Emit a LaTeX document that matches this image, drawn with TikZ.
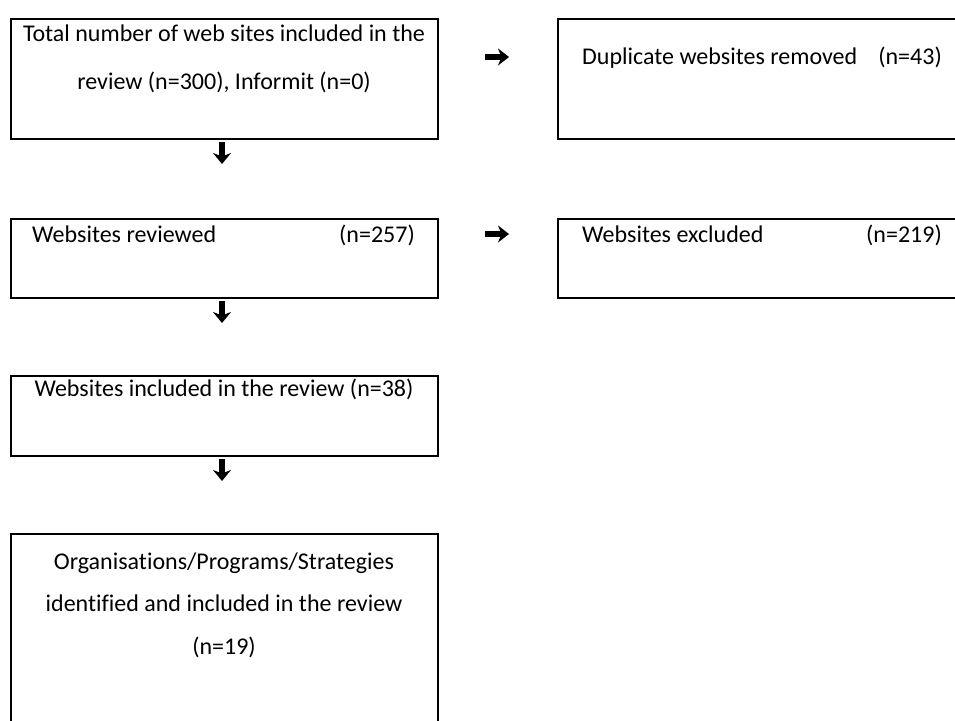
\documentclass[tikz,border=0pt]{standalone}
\usepackage{fontspec}
\setmainfont{Carlito}[Ligatures=NoCommon]
\usetikzlibrary{arrows.meta}
\begin{document}
\begin{tikzpicture}[x=1pt,y=-1pt,
  box/.style={draw=black,line width=2.2pt,anchor=north west,inner sep=0pt},
  txt/.style={inner sep=0pt,font=\fontsize{24}{28}\selectfont},
  darr/.style={line width=5.5pt,-{Stealth[width=18pt,length=11pt,inset=3.5pt]}},
  rarr/.style={line width=5.5pt,-{Stealth[width=17pt,length=11pt,inset=3.5pt]}}]
\useasboundingbox (0,0) rectangle (955,720);
\clip (0,0) rectangle (955,720);
% boxes
\node[box,minimum width=427pt,minimum height=120pt] (b1) at (10,18) {};
\node[box,minimum width=420pt,minimum height=120pt] (b2) at (557,18) {};
\node[box,minimum width=427pt,minimum height=79pt] (b3) at (10,218) {};
\node[box,minimum width=420pt,minimum height=79pt] (b4) at (557,218) {};
\node[box,minimum width=427pt,minimum height=80pt] (b5) at (10,375) {};
\node[box,minimum width=427pt,minimum height=220pt] (b6) at (10,533) {};
% texts
\node[txt,anchor=base] (t1a) at (224,41) {Total number of web sites included in the};
\node[txt,anchor=base] (t1b) at (224,89) {review (n=300), Informit (n=0)};
\node[txt,anchor=base west] (t2a) at (582,64) {Duplicate websites removed};
\node[txt,anchor=base east] (t2b) at (942,64) {(n=43)};
\node[txt,anchor=base west] (t3a) at (32,242) {Websites reviewed};
\node[txt,anchor=base east] (t3b) at (415,242) {(n=257)};
\node[txt,anchor=base west] (t4a) at (582,242) {Websites excluded};
\node[txt,anchor=base east] (t4b) at (942,242) {(n=219)};
\node[txt,anchor=base] (t5) at (224,396) {Websites included in the review (n=38)};
\node[txt,anchor=base] (t6a) at (224,569) {Organisations/Programs/Strategies};
\node[txt,anchor=base] (t6b) at (224,611) {identified and included in the review};
\node[txt,anchor=base] (t6c) at (224,654) {(n=19)};
% arrow glyphs
\coordinate (r1s) at (485,57); \coordinate (r1e) at (509,57);
\coordinate (r2s) at (485,234); \coordinate (r2e) at (509,234);
\coordinate (d1s) at (222,142); \coordinate (d1e) at (222,164);
\coordinate (d2s) at (222,301); \coordinate (d2e) at (222,323);
\coordinate (d3s) at (222,459); \coordinate (d3e) at (222,481);
\draw[rarr] (r1s) -- (r1e);
\draw[rarr] (r2s) -- (r2e);
\draw[darr] (d1s) -- (d1e);
\draw[darr] (d2s) -- (d2e);
\draw[darr] (d3s) -- (d3e);
\end{tikzpicture}
\end{document}
